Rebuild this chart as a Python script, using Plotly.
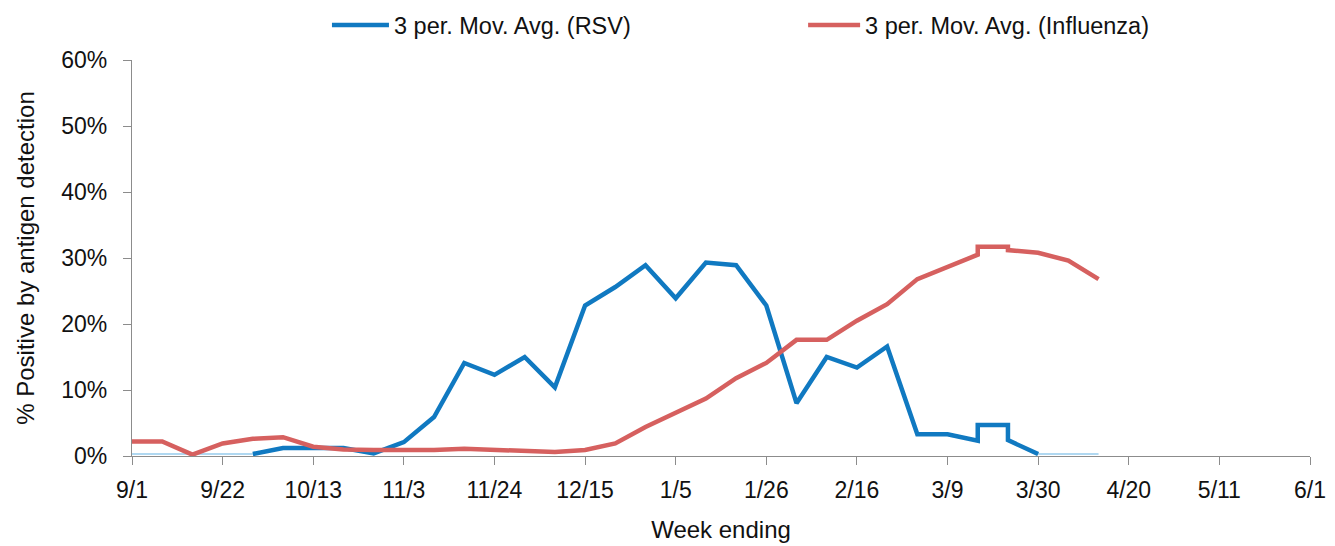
import plotly.graph_objects as go

# ---- data ----
flu_dates = ["2018-09-01", "2018-09-08", "2018-09-15", "2018-09-22", "2018-09-29",
             "2018-10-06", "2018-10-13", "2018-10-20", "2018-10-27", "2018-11-03",
             "2018-11-10", "2018-11-17", "2018-11-24", "2018-12-01", "2018-12-08",
             "2018-12-15", "2018-12-22", "2018-12-29", "2019-01-05", "2019-01-12",
             "2019-01-19", "2019-01-26", "2019-02-02", "2019-02-09", "2019-02-16",
             "2019-02-23", "2019-03-02", "2019-03-09", "2019-03-16", "2019-03-16",
             "2019-03-23", "2019-03-23", "2019-03-30", "2019-04-06", "2019-04-13"]
flu_values = [2.2, 2.2, 0.2, 1.9, 2.6,
              2.85, 1.4, 1.0, 0.9, 0.9,
              0.9, 1.1, 0.9, 0.8, 0.6,
              0.9, 1.9, 4.4, 6.6, 8.7,
              11.8, 14.1, 17.6, 17.6, 20.5,
              23.0, 26.8, 28.7, 30.5, 31.7,
              31.7, 31.2, 30.8, 29.6, 26.8]

rsv_dates = ["2018-09-29", "2018-10-06", "2018-10-13", "2018-10-20", "2018-10-27",
             "2018-11-03", "2018-11-10", "2018-11-17", "2018-11-24", "2018-12-01",
             "2018-12-08", "2018-12-15", "2018-12-22", "2018-12-29", "2019-01-05",
             "2019-01-12", "2019-01-19", "2019-01-26", "2019-02-02", "2019-02-09",
             "2019-02-16", "2019-02-23", "2019-03-02", "2019-03-09", "2019-03-16",
             "2019-03-16", "2019-03-23", "2019-03-23", "2019-03-30"]
rsv_values = [0.3, 1.2, 1.2, 1.2, 0.4,
              2.1, 5.9, 14.1, 12.3, 15.0,
              10.4, 22.8, 25.6, 28.9, 23.9,
              29.3, 28.9, 22.8, 8.0, 15.0,
              13.4, 16.6, 3.3, 3.3, 2.3,
              4.7, 4.7, 2.4, 0.3]

base_dates = ["2018-09-01", "2018-09-08", "2018-09-15", "2018-09-22", "2018-09-29",
              "2019-03-29", "2019-03-30", "2019-04-06", "2019-04-13"]
base_values = [0.3, 0.3, 0.3, 0.3, 0.3, None, 0.3, 0.3, 0.3]

tick_dates = ["2018-09-01", "2018-09-22", "2018-10-13", "2018-11-03", "2018-11-24",
              "2018-12-15", "2019-01-05", "2019-01-26", "2019-02-16", "2019-03-09",
              "2019-03-30", "2019-04-20", "2019-05-11", "2019-06-01"]
tick_labels = ["9/1", "9/22", "10/13", "11/3", "11/24", "12/15", "1/5", "1/26",
               "2/16", "3/9", "3/30", "4/20", "5/11", "6/1"]
y_ticks = [0, 10, 20, 30, 40, 50, 60]
y_tick_labels = ["0%", "10%", "20%", "30%", "40%", "50%", "60%"]

FONT = "Liberation Sans, Arial, sans-serif"
TXT = "#111111"
AX = "#8c8c8c"

fig = go.Figure()
fig.add_trace(go.Scatter(x=base_dates, y=base_values, mode="lines",
                         line=dict(color="#62b2e4", width=1.2),
                         showlegend=False, connectgaps=False, hoverinfo="skip"))
fig.add_trace(go.Scatter(x=rsv_dates, y=rsv_values, mode="lines",
                         name="3 per. Mov. Avg. (RSV)",
                         line=dict(color="#1079c1", width=4.5),
                         legend="legend"))
fig.add_trace(go.Scatter(x=flu_dates, y=flu_values, mode="lines",
                         name="3 per. Mov. Avg. (Influenza)",
                         line=dict(color="#d6605f", width=4.5),
                         legend="legend2"))

# the page body has an 8px margin, so the figure is 8px smaller and margins shifted
fig.update_layout(
    width=1327, height=538,
    margin=dict(l=124, r=25, t=52, b=90, autoexpand=False),
    paper_bgcolor="white", plot_bgcolor="white",
    font=dict(family=FONT, size=22, color=TXT),
    legend=dict(orientation="h", x=0.1655, xanchor="left", y=1.088, yanchor="middle",
                itemwidth=57, font=dict(size=23.5, family=FONT, color=TXT),
                bgcolor="rgba(0,0,0,0)"),
    legend2=dict(orientation="h", x=0.5697, xanchor="left", y=1.088, yanchor="middle",
                 itemwidth=52, font=dict(size=23.5, family=FONT, color=TXT),
                 bgcolor="rgba(0,0,0,0)"),
    xaxis=dict(type="date", range=["2018-09-01", "2019-06-01"], automargin=False,
               tickmode="array", tickvals=tick_dates, ticktext=tick_labels,
               showline=True, linecolor=AX, linewidth=1.3,
               ticks="outside", ticklen=8, tickcolor=AX, tickwidth=1.3,
               showgrid=False, zeroline=False, ticklabelstandoff=5,
               tickfont=dict(size=23, family=FONT, color=TXT),
               title=dict(text="Week ending", font=dict(size=24, family=FONT, color=TXT),
                          standoff=19)),
    yaxis=dict(range=[0, 60], tickmode="array", tickvals=y_ticks, ticktext=y_tick_labels,
               automargin=False,
               showline=True, linecolor=AX, linewidth=1.3,
               ticks="outside", ticklen=8, tickcolor=AX, tickwidth=1.3,
               showgrid=False, zeroline=False, ticklabelstandoff=11,
               tickfont=dict(size=23, family=FONT, color=TXT),
               title=dict(text="% Positive by antigen detection",
                          font=dict(size=24, family=FONT, color=TXT), standoff=19)),
)

fig.write_html("out.html")
